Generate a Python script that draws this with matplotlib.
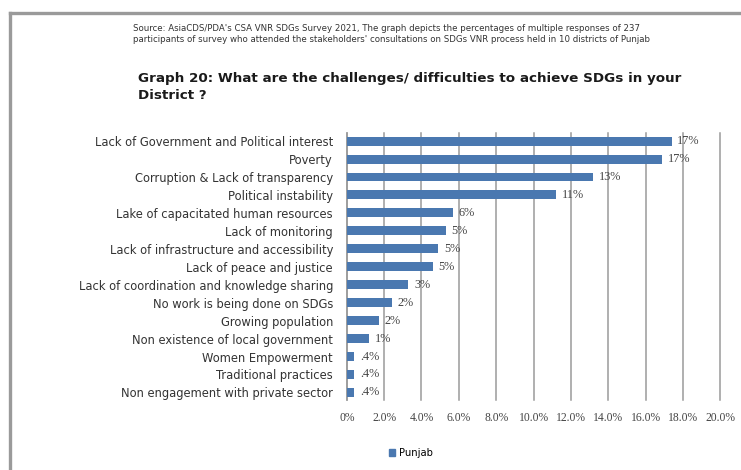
import matplotlib.pyplot as plt
from matplotlib.lines import Line2D
from matplotlib.patches import Patch

# ---------- datos ----------
retos = [
    "Lack of Government and Political interest",
    "Poverty",
    "Corruption & Lack of transparency",
    "Political instability",
    "Lake of capacitated human resources",
    "Lack of monitoring",
    "Lack of infrastructure and accessibility",
    "Lack of peace and justice",
    "Lack of coordination and knowledge sharing",
    "No work is being done on SDGs",
    "Growing population",
    "Non existence of local government",
    "Women Empowerment",
    "Traditional practices",
    "Non engagement with private sector",
]
porcentajes = [17.4, 16.9, 13.2, 11.2, 5.7, 5.3, 4.9, 4.6, 3.3, 2.4, 1.7, 1.2, 0.4, 0.4, 0.4]
ticks_x = [0, 2, 4, 6, 8, 10, 12, 14, 16, 18, 20]
etiquetas_x = ["0%", "2.0%", "4.0%", "6.0%", "8.0%", "10.0%", "12.0%", "14.0%",
               "16.0%", "18.0%", "20.0%"]
serie = "Punjab"

fuente = ("Source: AsiaCDS/PDA's CSA VNR SDGs Survey 2021, The graph depicts the percentages of multiple responses of 237\n"
          "participants of survey who attended the stakeholders' consultations on SDGs VNR process held in 10 districts of Punjab")
titulo = "Graph 20: What are the challenges/ difficulties to achieve SDGs in your\nDistrict ?"

color_barra = "#4a78b0"
serif = ["Liberation Serif", "DejaVu Serif"]


def etiqueta(v):
    # formato tipo Excel: .4% para valores menores a 1
    if v < 1:
        return f"{v:.1f}%".lstrip("0")
    return f"{v:.0f}%"


fig = plt.figure(figsize=(7.41, 4.70), dpi=100)
ax = fig.add_axes([0.468, 0.149, 0.504, 0.568])

y = list(range(len(retos)))
barras = ax.barh(y, porcentajes, height=0.5, color=color_barra, zorder=3)

# ------------ etiquetas de valor ------------
for b, v in zip(barras, porcentajes):
    ax.text(b.get_width() + 0.3, b.get_y() + b.get_height() / 2, etiqueta(v),
            va="center", ha="left", fontsize=8.8, family=serif, color="#444444")

ax.set_xlim(0, 20)
ax.set_ylim(14.42, -0.45)
ax.set_xticks(ticks_x)
ax.set_xticklabels(etiquetas_x, family=serif, fontsize=8.4, color="#444444")
ax.set_yticks(y)
ax.set_yticklabels(retos, fontsize=8.3, color="#333333")
ax.tick_params(axis="y", length=0, pad=10)
ax.tick_params(axis="x", length=0, pad=9)

# ------------ grid vertical ------------
ax.grid(axis="x", color="#9a9a9a", linewidth=1.1, zorder=0)
for linea in ax.get_xgridlines():
    linea.set_clip_on(False)
for lado in ["top", "right", "bottom"]:
    ax.spines[lado].set_visible(False)
ax.spines["left"].set_color("#9a9a9a")
ax.spines["left"].set_linewidth(1.1)

# ------------ leyenda ------------
fig.legend(handles=[Patch(color=color_barra, label=serie)], loc="center",
           bbox_to_anchor=(0.555, 0.036), frameon=False, fontsize=7.2,
           handlelength=0.6, handleheight=0.6, handletextpad=0.4)

# ------------ textos superiores ------------
fig.text(0.18, 0.928, fuente, fontsize=6.2, va="center", ha="left",
         color="#333333", linespacing=1.3)
fig.text(0.186, 0.815, titulo, fontsize=9.7, fontweight="bold", va="center",
         ha="left", color="#1a1a1a", linespacing=1.45)

# ------------ marco gris ------------
fig.add_artist(Line2D([0.014, 1.0], [0.972, 0.972], color="#9a9a9a", linewidth=2.4))
fig.add_artist(Line2D([0.014, 0.014], [0.0, 0.972], color="#9a9a9a", linewidth=2.4))

fig.savefig("out.png", dpi=100)
